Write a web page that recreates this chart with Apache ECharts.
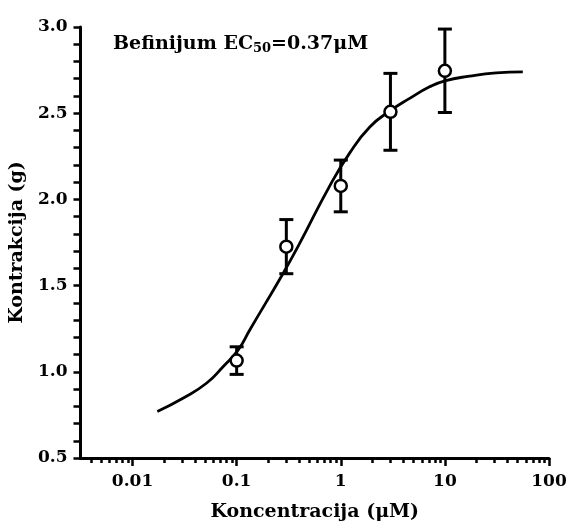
<!DOCTYPE html>
<html>
<head>
<meta charset="utf-8">
<script src="https://cdn.jsdelivr.net/npm/echarts@6/dist/echarts.min.js"></script>
<style>
  html, body { margin: 0; padding: 0; background: #fff; }
  #main { width: 570px; height: 529px; }
</style>
</head>
<body>
<div id="main"></div>
<script>
// koncentracija (uM), srednja vrednost i greska (g)
var conc = [0.1, 0.3, 1, 3, 10];
var means = [1.065, 1.726, 2.078, 2.508, 2.746];
var errs = [0.08, 0.157, 0.15, 0.223, 0.242];

// fitovana kriva, ocitana sa slike
var curveX = [0.0173, 0.0308, 0.0516, 0.0744, 0.1035, 0.134, 0.28, 0.404, 0.77, 1.22, 1.9, 2.95, 4.59, 7.13, 10, 17.3, 31.1, 56];
var curveY = [0.77, 0.848, 0.935, 1.031, 1.127, 1.244, 1.572, 1.746, 2.07, 2.27, 2.42, 2.512, 2.586, 2.653, 2.688, 2.715, 2.734, 2.74];

var majorTicks = [0.01, 0.1, 1, 10, 100];
var minorTicks = [];
[0.001, 0.01, 0.1, 1, 10].forEach(function (d) {
    for (var k = 2; k <= 9; k++) minorTicks.push(k * d);
});

var lg = function (v) { return Math.log10(v); };
var fontFam = 'DejaVu Serif';

var myChart = echarts.init(document.getElementById('main'));

var points = conc.map(function (c, i) { return [lg(c), means[i]]; });
var bars = conc.map(function (c, i) { return [lg(c), means[i], errs[i]]; });
var curve = curveX.map(function (c, i) { return [lg(c), curveY[i]]; });

var option = {
    animation: false,
    backgroundColor: '#fff',
    title: {
        left: 108,
        top: 29,
        text: '{a|Befinijum EC}{s|50}{a|=0.37μM}',
        textStyle: {
            rich: {
                a: { fontFamily: fontFam, fontWeight: 'bold', fontSize: 19, color: '#000' },
                s: { fontFamily: fontFam, fontWeight: 'bold', fontSize: 13, color: '#000', padding: [8, 0, 0, 0] }
            }
        }
    },
    grid: { left: 80, right: 21, top: 27, bottom: 71 },
    xAxis: [
        {
            type: 'value',
            min: -2.5,
            max: 2,
            name: 'Koncentracija (μM)',
            nameLocation: 'middle',
            nameGap: 45,
            nameTextStyle: { fontFamily: fontFam, fontWeight: 'bold', fontSize: 19, color: '#000' },
            splitLine: { show: false },
            axisLine: { onZero: false, lineStyle: { color: '#000', width: 3 } },
            axisTick: {
                customValues: majorTicks.map(lg),
                length: 8,
                lineStyle: { color: '#000', width: 2.5 }
            },
            axisLabel: {
                customValues: majorTicks.map(lg),
                margin: 15,
                fontFamily: fontFam,
                fontWeight: 'bold',
                fontSize: 17,
                color: '#000',
                formatter: function (v) {
                    var p = Math.round(v);
                    return p < 0 ? (Math.pow(10, p)).toFixed(-p) : String(Math.pow(10, p));
                }
            }
        },
        {
            type: 'value',
            min: -2.5,
            max: 2,
            position: 'bottom',
            splitLine: { show: false },
            axisLine: { show: false, onZero: false },
            axisTick: {
                customValues: minorTicks.map(lg),
                length: 5,
                lineStyle: { color: '#000', width: 2.5 }
            },
            axisLabel: { show: false }
        }
    ],
    yAxis: {
        type: 'value',
        min: 0.5,
        max: 3,
        interval: 0.1,
        name: 'Kontrakcija (g)',
        nameLocation: 'middle',
        nameGap: 42,
        nameTextStyle: { fontFamily: fontFam, fontWeight: 'bold', fontSize: 19, color: '#000' },
        splitLine: { show: false },
        axisLine: { show: true, onZero: false, lineStyle: { color: '#000', width: 3 } },
        axisTick: { length: 7, lineStyle: { color: '#000', width: 2.5 } },
        axisLabel: {
            margin: 13,
            fontFamily: fontFam,
            fontWeight: 'bold',
            fontSize: 17,
            color: '#000',
            formatter: function (v) {
                return Math.abs(v * 2 - Math.round(v * 2)) < 1e-6 ? v.toFixed(1) : '';
            }
        }
    },
    series: [
        {
            name: 'kriva',
            type: 'line',
            data: curve,
            smooth: 0.5,
            symbol: 'none',
            lineStyle: { color: '#000', width: 2.8 },
            z: 1
        },
        {
            name: 'greska',
            type: 'custom',
            data: bars,
            z: 2,
            renderItem: function (params, api) {
                var x = api.value(0), m = api.value(1), e = api.value(2);
                var top = api.coord([x, m + e]);
                var bot = api.coord([x, m - e]);
                var hw = 7;
                var st = { stroke: '#000', lineWidth: 3 };
                return {
                    type: 'group',
                    children: [
                        { type: 'line', shape: { x1: top[0], y1: top[1], x2: bot[0], y2: bot[1] }, style: st },
                        { type: 'line', shape: { x1: top[0] - hw, y1: top[1], x2: top[0] + hw, y2: top[1] }, style: st },
                        { type: 'line', shape: { x1: bot[0] - hw, y1: bot[1], x2: bot[0] + hw, y2: bot[1] }, style: st }
                    ]
                };
            }
        },
        {
            name: 'tacke',
            type: 'scatter',
            data: points,
            symbol: 'circle',
            symbolSize: 12,
            itemStyle: { color: '#fff', borderColor: '#000', borderWidth: 2.5, opacity: 1 },
            z: 3
        }
    ]
};

myChart.setOption(option);
</script>
</body>
</html>
